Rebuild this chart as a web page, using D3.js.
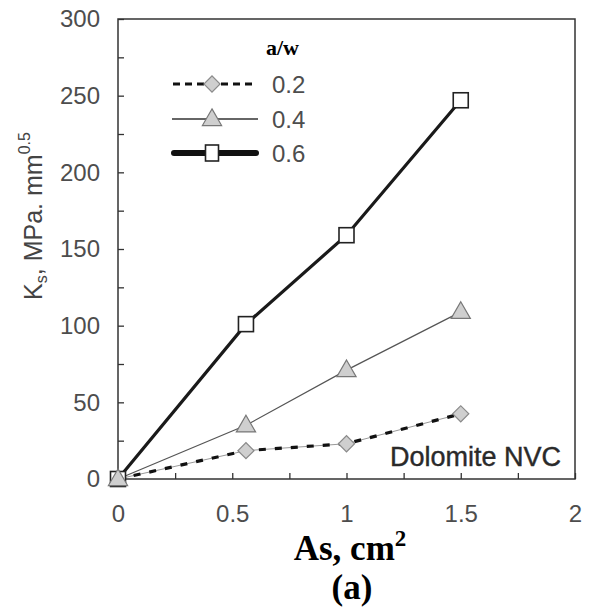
<!DOCTYPE html>
<html>
  <head>
    <meta charset="utf-8">
    <title>Ks vs As</title>
    <script src="https://cdnjs.cloudflare.com/ajax/libs/d3/7.8.5/d3.min.js"></script>
    <style>
      body { margin: 0; background: #fff; }
    </style>
  </head>
  <body>
    <script>
      // values
      var asValues = [0, 0.56, 1, 1.5];
      var ks02 = [0, 18.5, 23, 42.5];
      var ks04 = [0, 35, 71, 109];
      var ks06 = [0, 101, 159, 247];
      var seriesNames = ["0.2", "0.4", "0.6"];
      var xTicks = [0, 0.25, 0.5, 0.75, 1, 1.25, 1.5, 1.75, 2];
      var yTicks = d3.range(0, 301, 25);

      var svg = d3.select("body").append("svg")
                  .attr("width", 594)
                  .attr("height", 611);

      var x = d3.scaleLinear().domain([0, 2]).range([118, 575]);
      var y = d3.scaleLinear().domain([0, 300]).range([479, 19]);

      var tickColor = "#4d4d4d";

      // axes, ticks pointing inside
      svg.append("g")
        .attr("transform", "translate(0," + y(0) + ")")
        .call(d3.axisBottom(x).tickValues(xTicks).tickSizeInner(-6).tickSizeOuter(0).tickPadding(26)
          .tickFormat(function(d){ return d % 0.5 === 0 ? String(d) : ""; }));

      svg.append("g")
        .attr("transform", "translate(" + x(0) + ",0)")
        .call(d3.axisLeft(y).tickValues(yTicks).tickSizeInner(-6).tickSizeOuter(0).tickPadding(18)
          .tickFormat(function(d){ return d % 50 === 0 ? String(d) : ""; }));

      svg.selectAll(".domain").remove();
      svg.selectAll(".tick line").attr("stroke", "#333").attr("stroke-width", 1.3);
      svg.selectAll(".tick text")
         .attr("font-family", "Liberation Sans, Arial, sans-serif")
         .attr("font-size", 24)
         .attr("fill", tickColor);

      // frame
      svg.append("rect")
         .attr("x", x(0)).attr("y", y(300))
         .attr("width", x(2) - x(0)).attr("height", y(0) - y(300))
         .attr("fill", "none").attr("stroke", "#333").attr("stroke-width", 1.5);

      function pts(vals) {
        return asValues.map(function(a, i){ return [a, vals[i]]; });
      }
      var line = d3.line().x(function(d){ return x(d[0]); }).y(function(d){ return y(d[1]); });

      // 0.2 : thin grey under black dashes
      svg.append("path").attr("d", line(pts(ks02)))
         .attr("fill", "none").attr("stroke", "#999").attr("stroke-width", 1);
      svg.append("path").attr("d", line(pts(ks02)))
         .attr("fill", "none").attr("stroke", "#111").attr("stroke-width", 3.2)
         .attr("stroke-dasharray", "7,9");

      // 0.4 : thin line
      svg.append("path").attr("d", line(pts(ks04)))
         .attr("fill", "none").attr("stroke", "#555").attr("stroke-width", 1.2);

      // 0.6 : thick line
      svg.append("path").attr("d", line(pts(ks06)))
         .attr("fill", "none").attr("stroke", "#1a1a1a").attr("stroke-width", 3.2);

      var diamond = d3.symbol().type(d3.symbolSquare).size(130);
      var triangle = d3.symbol().type(d3.symbolTriangle).size(160);

      function drawDiamond(g, cx, cy) {
        g.append("path").attr("d", diamond())
         .attr("transform", "translate(" + cx + "," + cy + ") rotate(45)")
         .attr("fill", "#cfcfcf").attr("stroke", "#8a8a8a").attr("stroke-width", 1.2);
      }
      function drawTriangle(g, cx, cy) {
        g.append("path").attr("d", triangle())
         .attr("transform", "translate(" + cx + "," + (cy + 1) + ")")
         .attr("fill", "#cfcfcf").attr("stroke", "#777").attr("stroke-width", 1.2);
      }
      function drawSquare(g, cx, cy, w, h) {
        g.append("rect")
         .attr("x", cx - w / 2).attr("y", cy - h / 2)
         .attr("width", w).attr("height", h)
         .attr("fill", "#fff").attr("stroke", "#222").attr("stroke-width", 1.6);
      }

      var marks = svg.append("g");
      pts(ks06).forEach(function(d){ drawSquare(marks, x(d[0]), y(d[1]), 15, 15); });
      pts(ks04).forEach(function(d){ drawTriangle(marks, x(d[0]), y(d[1])); });
      pts(ks02).forEach(function(d, i){ if (i > 0) drawDiamond(marks, x(d[0]), y(d[1])); });

      // legend
      var leg = svg.append("g");
      leg.append("text").attr("x", 266).attr("y", 55)
         .attr("font-family", "Liberation Serif, Times New Roman, serif")
         .attr("font-weight", "bold").attr("font-size", 22)
         .text("a/w");

      var legRows = [84, 119, 153];
      leg.append("line").attr("x1", 173).attr("x2", 257).attr("y1", legRows[0]).attr("y2", legRows[0])
         .attr("stroke", "#111").attr("stroke-width", 3).attr("stroke-dasharray", "7,5");
      drawDiamond(leg, 212, legRows[0]);
      leg.append("line").attr("x1", 172).attr("x2", 258).attr("y1", legRows[1]).attr("y2", legRows[1])
         .attr("stroke", "#333").attr("stroke-width", 1.3);
      drawTriangle(leg, 212, legRows[1]);
      leg.append("line").attr("x1", 174).attr("x2", 256).attr("y1", legRows[2]).attr("y2", legRows[2])
         .attr("stroke", "#111").attr("stroke-width", 6).attr("stroke-linecap", "round");
      drawSquare(leg, 212, legRows[2], 13, 16);

      leg.selectAll("text.lab").data(seriesNames).enter().append("text")
         .attr("class", "lab")
         .attr("x", 272).attr("y", function(d, i){ return legRows[i]; })
         .attr("dy", "0.36em")
         .attr("font-family", "Liberation Sans, Arial, sans-serif")
         .attr("font-size", 24).attr("fill", tickColor)
         .text(function(d){ return d; });

      // annotation
      svg.append("text").attr("x", 561).attr("y", 466)
         .attr("text-anchor", "end")
         .attr("font-family", "Liberation Sans, Arial, sans-serif")
         .attr("font-size", 27).attr("fill", "#2a2a2a")
         .attr("stroke", "#2a2a2a").attr("stroke-width", 0.4)
         .text("Dolomite NVC");

      // y label
      var yl = svg.append("text")
         .attr("transform", "translate(42,216) rotate(-90)")
         .attr("text-anchor", "middle")
         .attr("font-family", "Liberation Sans, Arial, sans-serif")
         .attr("font-size", 25).attr("fill", "#444");
      yl.append("tspan").text("K");
      yl.append("tspan").attr("font-size", 16).attr("dy", 5).text("s");
      yl.append("tspan").attr("dy", -5).text(", MPa. mm");
      yl.append("tspan").attr("font-size", 16).attr("dy", -12).text("0.5");

      // x label
      var xl = svg.append("text")
         .attr("x", 350).attr("y", 560)
         .attr("text-anchor", "middle")
         .attr("font-family", "Liberation Serif, Times New Roman, serif")
         .attr("font-weight", "bold").attr("font-size", 35);
      xl.append("tspan").text("As, cm");
      xl.append("tspan").attr("font-size", 23).attr("dy", -14).text("2");

      svg.append("text")
         .attr("x", 352).attr("y", 599)
         .attr("text-anchor", "middle")
         .attr("font-family", "Liberation Serif, Times New Roman, serif")
         .attr("font-weight", "bold").attr("font-size", 35)
         .text("(a)");
    </script>
  </body>
</html>
